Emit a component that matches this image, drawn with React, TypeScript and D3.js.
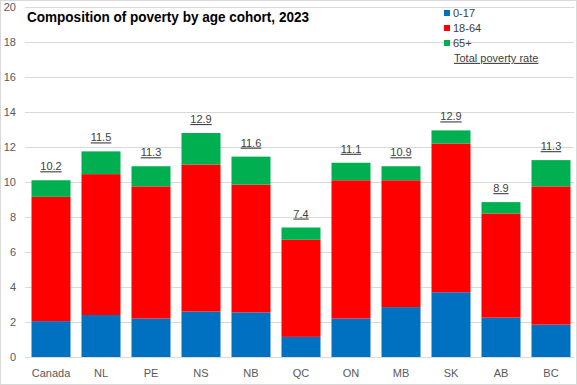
import React, { useEffect, useRef } from "react";
import * as d3 from "d3";

// 지역 (x축 카테고리)
const regions = ["Canada", "NL", "PE", "NS", "NB", "QC", "ON", "MB", "SK", "AB", "BC"];
// 연령대별 빈곤 구성 (%)
const age0to17 = [2.05, 2.4, 2.2, 2.6, 2.55, 1.15, 2.2, 2.85, 3.7, 2.25, 1.85];
const age18to64 = [7.1, 8.05, 7.55, 8.4, 7.3, 5.55, 7.9, 7.25, 8.5, 5.95, 7.9];
const age65plus = [0.95, 1.3, 1.15, 1.8, 1.6, 0.7, 1.0, 0.8, 0.75, 0.65, 1.5];
// 전체 빈곤율 라벨
const totalRate = ["10.2", "11.5", "11.3", "12.9", "11.6", "7.4", "11.1", "10.9", "12.9", "8.9", "11.3"];
const yTicks = [0, 2, 4, 6, 8, 10, 12, 14, 16, 18, 20];

const seriesNames = ["0-17", "18-64", "65+"];
const colors = ["#0070C0", "#FF0000", "#00B050"];

const W = 577;
const H = 385;
const font = "'Liberation Sans', Arial, sans-serif";

const App: React.FC = () => {
  const ref = useRef<SVGSVGElement>(null);

  useEffect(() => {
    if (!ref.current) return;
    const svg = d3.select(ref.current);
    svg.selectAll("*").remove();

    const plot = { left: 26, right: 576, top: 7, bottom: 357 };

    const x = d3.scaleBand<string>()
      .domain(regions)
      .range([plot.left, plot.right])
      .paddingInner(0.22)
      .paddingOuter(0.11);

    const y = d3.scaleLinear().domain([0, 20]).range([plot.bottom, plot.top]);

    // 배경 + 테두리
    svg.append("rect")
      .attr("x", 0.5).attr("y", 0.5)
      .attr("width", W - 1).attr("height", H - 1)
      .attr("fill", "#fff")
      .attr("stroke", "#d9d9d9");

    // 격자선
    svg.append("g")
      .selectAll("line")
      .data(yTicks)
      .join("line")
      .attr("x1", plot.left - 1)
      .attr("x2", plot.right - 2)
      .attr("y1", d => Math.round(y(d)) + 0.5)
      .attr("y2", d => Math.round(y(d)) + 0.5)
      .attr("stroke", "#d9d9d9");

    // y축 라벨
    svg.append("g")
      .selectAll("text")
      .data(yTicks)
      .join("text")
      .attr("x", 16)
      .attr("y", d => y(d))
      .attr("dy", "0.35em")
      .attr("text-anchor", "end")
      .attr("font-family", font)
      .attr("font-size", 11)
      .attr("fill", "#595959")
      .text(d => d);

    // 누적 데이터
    const rows = regions.map((r, i) => ({
      region: r,
      "0-17": age0to17[i],
      "18-64": age18to64[i],
      "65+": age65plus[i],
    }));
    const stacked = d3.stack<any>().keys(seriesNames)(rows);

    svg.append("g")
      .selectAll("g")
      .data(stacked)
      .join("g")
      .attr("fill", (_, i) => colors[i])
      .selectAll("rect")
      .data(d => d)
      .join("rect")
      .attr("x", d => x(d.data.region)!)
      .attr("width", x.bandwidth())
      .attr("y", d => y(d[1]))
      .attr("height", d => y(d[0]) - y(d[1]));

    // 전체 빈곤율 라벨 (밑줄)
    const top = stacked[stacked.length - 1];
    svg.append("g")
      .selectAll("text")
      .data(top)
      .join("text")
      .attr("x", d => x(d.data.region)! + x.bandwidth() / 2)
      .attr("y", d => y(d[1]) - 10)
      .attr("text-anchor", "middle")
      .attr("font-family", font)
      .attr("font-size", 11)
      .attr("fill", "#404040")
      .attr("text-decoration", "underline")
      .text((_, i) => totalRate[i]);

    // x축 라벨
    svg.append("g")
      .selectAll("text")
      .data(regions)
      .join("text")
      .attr("x", d => x(d)! + x.bandwidth() / 2)
      .attr("y", 377)
      .attr("text-anchor", "middle")
      .attr("font-family", font)
      .attr("font-size", 11)
      .attr("fill", "#595959")
      .text(d => d);

    // 제목
    svg.append("text")
      .attr("x", 27)
      .attr("y", 22)
      .attr("font-family", font)
      .attr("font-size", 14)
      .attr("font-weight", "bold")
      .attr("fill", "#000")
      .attr("textLength", 282)
      .attr("lengthAdjust", "spacingAndGlyphs")
      .text("Composition of poverty by age cohort, 2023");

    // 범례
    const legend = svg.append("g").attr("transform", "translate(444,0)");
    seriesNames.forEach((name, i) => {
      const cy = 13 + i * 15;
      legend.append("rect")
        .attr("x", 0).attr("y", cy - 3)
        .attr("width", 6).attr("height", 6)
        .attr("fill", colors[i]);
      legend.append("text")
        .attr("x", 9).attr("y", cy)
        .attr("dy", "0.35em")
        .attr("font-family", font)
        .attr("font-size", 11)
        .attr("fill", "#404040")
        .text(name);
    });
    legend.append("text")
      .attr("x", 10).attr("y", 58)
      .attr("dy", "0.35em")
      .attr("font-family", font)
      .attr("font-size", 11)
      .attr("fill", "#404040")
      .attr("text-decoration", "underline")
      .text("Total poverty rate");
  }, []);

  return (
    <svg
      ref={ref}
      width={W}
      height={H}
      style={{ position: "absolute", left: 0, top: 0 }}
    />
  );
};

export default App;
